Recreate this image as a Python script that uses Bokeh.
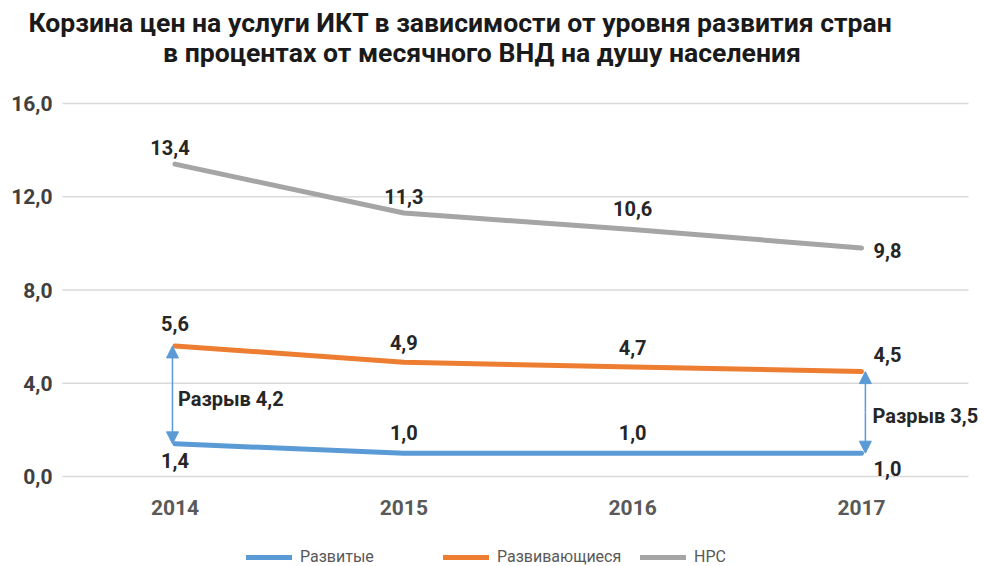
from bokeh.plotting import figure
from bokeh.models import (Range1d, LabelSet, ColumnDataSource, Arrow,
                          NormalHead, Label, Legend, LegendItem)
from bokeh.core.properties import value
from bokeh.embed import file_html
from bokeh.resources import INLINE

# ---- data ----
years = ["2014", "2015", "2016", "2017"]
developed = [1.4, 1.0, 1.0, 1.0]
developing = [5.6, 4.9, 4.7, 4.5]
ldc = [13.4, 11.3, 10.6, 9.8]
y_ticks = [0, 4, 8, 12, 16]
series_names = ["Развитые", "Развивающиеся", "НРС"]
title_line1 = "Корзина цен на услуги ИКТ в зависимости от уровня развития стран"
title_line2 = "в процентах от месячного ВНД на душу населения"
gap_label = "Разрыв"

FONT = "Roboto"
LABEL_COLOR = "#262626"
COLORS = ["#5B9BD5", "#ED7D31", "#A5A5A5"]
W, H = 984, 566

# ---- layout (pixel geometry of the plotting area inside the canvas) ----
PX_CAT0, PX_CAT_LAST = 174.5, 861.0      # centres of first / last category
PX_TOP16, PX_ZERO = 103.0, 476.0         # y=16 and y=0
PX_GRID_L, PX_GRID_R = 62.0, 968.0

xs = list(range(len(years)))
sx = (PX_CAT_LAST - PX_CAT0) / (len(xs) - 1)
sy = (PX_ZERO - PX_TOP16) / (y_ticks[-1] - y_ticks[0])
X_START = -PX_CAT0 / sx
X_END = X_START + W / sx
Y_START = y_ticks[0] - (H - PX_ZERO) / sy
Y_END = y_ticks[-1] + PX_TOP16 / sy

def px2x(px):
    return X_START + px / sx

def px2y(py):
    return Y_END - py / sy

def fmt(v):
    return f"{v:.1f}".replace(".", ",")

p = figure(width=W, height=H, output_backend="svg", toolbar_location=None,
           x_range=Range1d(X_START, X_END), y_range=Range1d(Y_START, Y_END),
           min_border=0, title_location=None)
p.outline_line_color = None
p.background_fill_color = "white"
p.border_fill_color = "white"
p.xaxis.visible = False
p.yaxis.visible = False
p.xgrid.grid_line_color = None
p.ygrid.grid_line_color = None

# horizontal grid lines
n = len(y_ticks)
p.segment(x0=[px2x(PX_GRID_L)] * n, x1=[px2x(PX_GRID_R)] * n,
          y0=y_ticks, y1=y_ticks, line_color="#D9D9D9", line_width=1.5)

# y tick labels
p.add_layout(LabelSet(x="x", y="y", text="t",
                      source=ColumnDataSource(dict(x=[px2x(PX_GRID_L)] * n, y=y_ticks,
                                                   t=[fmt(t) for t in y_ticks])),
                      x_offset=-10, text_align="right", text_baseline="middle",
                      text_font=value(FONT), text_font_size="21px",
                      text_font_style="bold", text_color="#404040"))

# category labels
p.add_layout(LabelSet(x="x", y="y", text="t",
                      source=ColumnDataSource(dict(x=xs, y=[y_ticks[0]] * len(xs),
                                                   t=years)),
                      y_offset=-31, text_align="center", text_baseline="middle",
                      text_font=value(FONT), text_font_size="21px",
                      text_font_style="bold", text_color="#595959"))

# title
for txt, cx, cy in [(title_line1, 460, 22), (title_line2, 481.5, 52)]:
    p.add_layout(Label(x=px2x(cx), y=px2y(cy), text=txt, text_align="center",
                       text_baseline="middle", text_font=FONT, text_font_size="26.6px",
                       text_font_style="bold", text_color="#1a1a1a"))

# lines
renderers = []
for vals, col in zip([developed, developing, ldc], COLORS):
    r = p.line(xs, vals, line_color=col, line_width=5, line_cap="round")
    renderers.append(r)

# data labels
def add_labels(vals, dx, dy):
    src = ColumnDataSource(dict(x=xs, y=vals, t=[fmt(v) for v in vals],
                                dx=dx, dy=dy))
    p.add_layout(LabelSet(x="x", y="y", text="t", source=src, x_offset="dx",
                          y_offset="dy", text_align="center", text_baseline="middle",
                          text_font=value(FONT), text_font_size="20px",
                          text_font_style="bold", text_color=LABEL_COLOR))

add_labels(ldc, [-5, 0, 0, 26], [17, 17, 21, -2])
add_labels(developing, [0, 0, 0, 26], [22, 20, 19, 17])
add_labels(developed, [0, 0, 0, 26], [-17, 21, 21, -15])

# gap arrows
for i, off, tx in [(0, -0.011, 3), (len(xs) - 1, 0.017, 11)]:
    top, bot = developing[i], developed[i]
    for end_val in (top, bot):
        p.add_layout(Arrow(x_start=xs[i] + off, y_start=(top + bot) / 2,
                           x_end=xs[i] + off, y_end=end_val,
                           line_color=COLORS[0], line_width=1.5,
                           end=NormalHead(size=12, fill_color=COLORS[0],
                                          line_color=COLORS[0])))
    p.add_layout(Label(x=xs[i], y=(top + bot) / 2, x_offset=tx, y_offset=-4,
                       text=f"{gap_label} {fmt(top - bot)}", text_align="left",
                       text_baseline="middle", text_font=FONT, text_font_size="20px",
                       text_font_style="bold", text_color=LABEL_COLOR))

# legend
legend = Legend(items=[LegendItem(label=nm, renderers=[r])
                       for nm, r in zip(series_names, renderers)],
                location=(246, 0), orientation="horizontal", padding=0, margin=0,
                spacing=13, border_line_color=None, background_fill_alpha=0,
                glyph_width=46, glyph_height=18, label_standoff=8, label_width=130,
                label_text_font=FONT, label_text_font_size="16px",
                label_text_color="#595959")
p.add_layout(legend)

open("out.html", "w").write(file_html(p, INLINE))
